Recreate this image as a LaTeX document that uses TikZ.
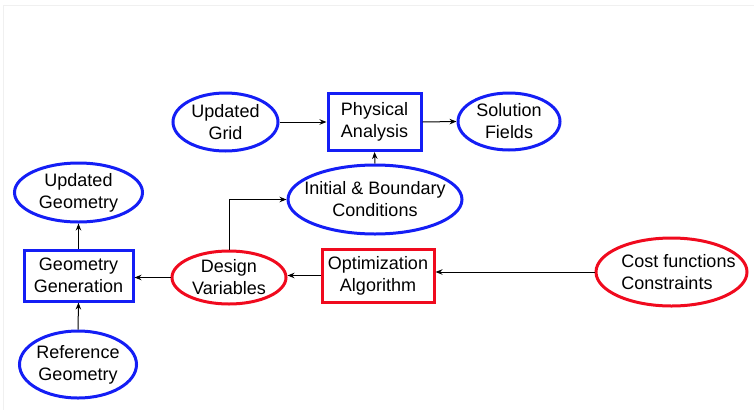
\documentclass[tikz,border=0pt]{standalone}
\usepackage{fontspec}
\setmainfont{Liberation Sans}
\usetikzlibrary{shapes.geometric,arrows.meta}
\definecolor{bblue}{RGB}{20,30,245}
\definecolor{rred}{RGB}{240,10,30}
\tikzset{
  base/.style={line width=3pt, inner sep=0pt, font=\fontsize{18}{22}\selectfont},
  bell/.style={base, ellipse, draw=bblue},
  rell/.style={base, ellipse, draw=rred},
  bbox/.style={base, rectangle, draw=bblue, align=center},
  rbox/.style={base, rectangle, draw=rred, align=center},
  lab/.style={label={[align=center, font=\fontsize{18}{22}\selectfont]center:#1}},
  conn/.style={line width=1pt, -{Stealth[length=7pt,width=5.5pt]}}
}
\begin{document}
\begin{tikzpicture}[x=1pt,y=-1pt]
\useasboundingbox (0,0) rectangle (754,410);
\draw[gray!12, line width=0.8pt] (3,410) -- (3,5) -- (754,5);

\node[bell, minimum width=105, minimum height=58, lab={Updated\\Grid}] (grid) at (225.5,122) {};
\node[bbox, minimum width=93, minimum height=57] (phys) at (374.5,122) {Physical\\Analysis};
\node[bell, minimum width=102, minimum height=57, lab={Solution\\Fields}] (sol) at (509,121.5) {};
\node[bell, minimum width=174, minimum height=69, lab={Initial \& Boundary\\Conditions}] (ibc) at (375,199.5) {};

\node[bell, minimum width=128, minimum height=59, lab={Updated\\Geometry}] (ugeo) at (78.5,192.5) {};
\node[bbox, minimum width=109, minimum height=51] (ggen) at (78.5,275.5) {Geometry\\Generation};
\node[bell, minimum width=117, minimum height=67, lab={Reference\\Geometry}] (rgeo) at (78,364.5) {};

\node[rell, minimum width=114, minimum height=53, lab={Design\\Variables}] (dv) at (229,277.5) {};
\node[rbox, minimum width=112, minimum height=53] (opt) at (378,275.5) {Optimization\\Algorithm};
\node[rell, minimum width=151, minimum height=68, label={[align=left, font=\fontsize{18}{22}\selectfont, xshift=7pt]center:Cost functions\\Constraints}] (cost) at (671.5,272) {};

\draw[conn] (grid.east) -- (phys.west);
\draw[conn] (phys.east) -- (sol.west);
\draw[conn] (ibc.north) -- (phys.south);
\draw[conn] (dv.north) |- (ibc.west);
\draw[conn] (ggen.north) -- (ugeo.south);
\draw[conn] (rgeo.north) -- (ggen.south);
\draw[conn] (dv.west) -- (dv.west -| ggen.east);
\draw[conn] (opt.west) -- (opt.west -| dv.east);
\draw[conn] (cost.west) -- (cost.west -| opt.east);
\end{tikzpicture}
\end{document}
